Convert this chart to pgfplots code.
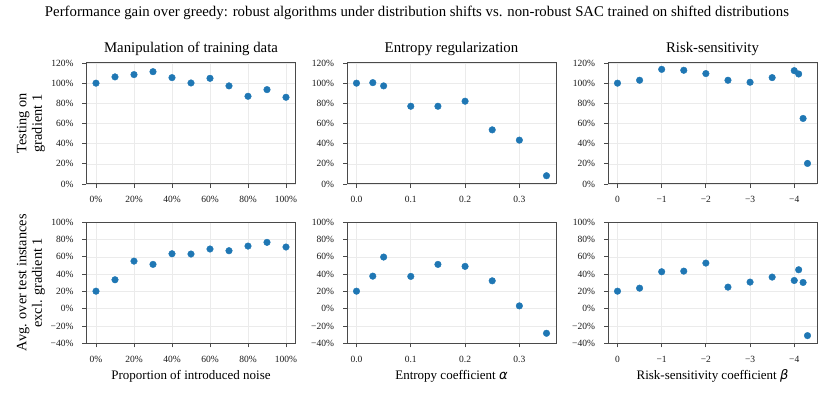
\documentclass[border=0pt]{standalone}
\usepackage{fontspec}
\setmainfont{Liberation Serif}
\newfontfamily\dejavu{DejaVu Sans}
\usepackage{pgfplots}
\pgfplotsset{compat=1.18}
\definecolor{tabblue}{HTML}{1F77B4}
\definecolor{spine}{HTML}{4A4A4A}
\pgfplotsset{
  panel/.style={
    scale only axis, width=209pt, height=121pt, anchor=south west,
    axis line style={spine, line width=1pt},
    tick style={spine, line width=0.8pt},
    major tick length=4pt, tick align=outside,
    xtick pos=bottom, ytick pos=left,
    grid=major, grid style={black!8, line width=0.6pt},
    tick label style={font=\fontsize{9.5}{10}\selectfont, black!90},
    xticklabel style={yshift=-5pt},
    yticklabel style={xshift=-5.5pt},
    title style={font=\fontsize{14.8}{16}\selectfont, yshift=-2pt},
    xlabel style={font=\fontsize{13}{15}\selectfont, at={(axis description cs:0.5,-0.303)}, anchor=base},
    ylabel style={font=\fontsize{14.3}{15.5}\selectfont, align=center, at={(axis description cs:-0.266,0.5)}, anchor=center},
  },
  toprow/.style={ymin=0, ymax=120, ytick={0,20,...,120},
    yticklabels={0\%,20\%,40\%,60\%,80\%,100\%,120\%}},
  botrow/.style={ymin=-40, ymax=100, ytick={-40,-20,...,100},
    yticklabels={−40\%,−20\%,0\%,20\%,40\%,60\%,80\%,100\%}},
  colA/.style={xmin=-5, xmax=105, xtick={0,20,...,100},
    xticklabels={0\%,20\%,40\%,60\%,80\%,100\%}},
  colB/.style={xmin=-0.0175, xmax=0.3675, xtick={0,0.1,0.2,0.3},
    xticklabels={0.0,0.1,0.2,0.3}},
  colC/.style={x dir=reverse, xmin=-4.515, xmax=0.215, xtick={-4,-3,-2,-1,0},
    xticklabels={−4,−3,−2,−1,0}},
  dots/.style={only marks, mark=*, mark size=3.3pt, color=tabblue, mark options={fill=tabblue, draw=tabblue}},
}
\begin{document}
\begin{tikzpicture}
\path[use as bounding box] (0,0) rectangle (831pt,402pt);
\node[anchor=base, font=\fontsize{14.8}{16}\selectfont] at (417pt,385pt) {Performance gain over greedy: robust algorithms under distribution shifts vs. non-robust SAC trained on shifted distributions};

% top row
\begin{axis}[panel, toprow, colA, at={(86.5pt,218pt)}, title={Manipulation of training data}, ylabel={Testing on\\gradient 1}]
\addplot[dots] coordinates {(0,100) (10,106.2) (20,108.5) (30,111.4) (40,105.5) (50,100.2) (60,104.8) (70,97.3) (80,87) (90,93.6) (100,86)};
\end{axis}
\begin{axis}[panel, toprow, colB, at={(347pt,218pt)}, title={Entropy regularization}]
\addplot[dots] coordinates {(0,100) (0.03,100.5) (0.05,97.3) (0.1,77.1) (0.15,77.1) (0.2,82.1) (0.25,53.7) (0.3,43.5) (0.35,8.2)};
\end{axis}
\begin{axis}[panel, toprow, colC, at={(608pt,218pt)}, title={Risk-sensitivity}]
\addplot[dots] coordinates {(0,100) (-0.5,102.9) (-1,113.7) (-1.5,112.8) (-2,109.5) (-2.5,102.9) (-3,100.9) (-3.5,105.5) (-4,112.4) (-4.1,109.1) (-4.2,65) (-4.3,20.4)};
\end{axis}

% bottom row
\begin{axis}[panel, botrow, colA, at={(86.5pt,58.7pt)}, xlabel={Proportion of introduced noise}, ylabel={Avg. over test instances\\excl. gradient 1}]
\addplot[dots] coordinates {(0,20.3) (10,33.5) (20,55.1) (30,51.3) (40,63.6) (50,63.3) (60,69.1) (70,67.1) (80,72.5) (90,76.8) (100,71.4)};
\end{axis}
\begin{axis}[panel, botrow, colB, at={(347pt,58.7pt)}, xlabel={Entropy coefficient {\dejavu\itshape α}}]
\addplot[dots] coordinates {(0,20.3) (0.03,37.7) (0.05,59.8) (0.1,37.4) (0.15,51.3) (0.2,49) (0.25,32.3) (0.3,3.3) (0.35,-28.4)};
\end{axis}
\begin{axis}[panel, botrow, colC, at={(608pt,58.7pt)}, xlabel={Risk-sensitivity coefficient {\dejavu\itshape β}}]
\addplot[dots] coordinates {(0,20.3) (-0.5,23.8) (-1,42.8) (-1.5,43.5) (-2,52.8) (-2.5,25) (-3,30.8) (-3.5,36.6) (-4,32.7) (-4.1,45.1) (-4.2,30.4) (-4.3,-31.1)};
\end{axis}
\end{tikzpicture}
\end{document}
